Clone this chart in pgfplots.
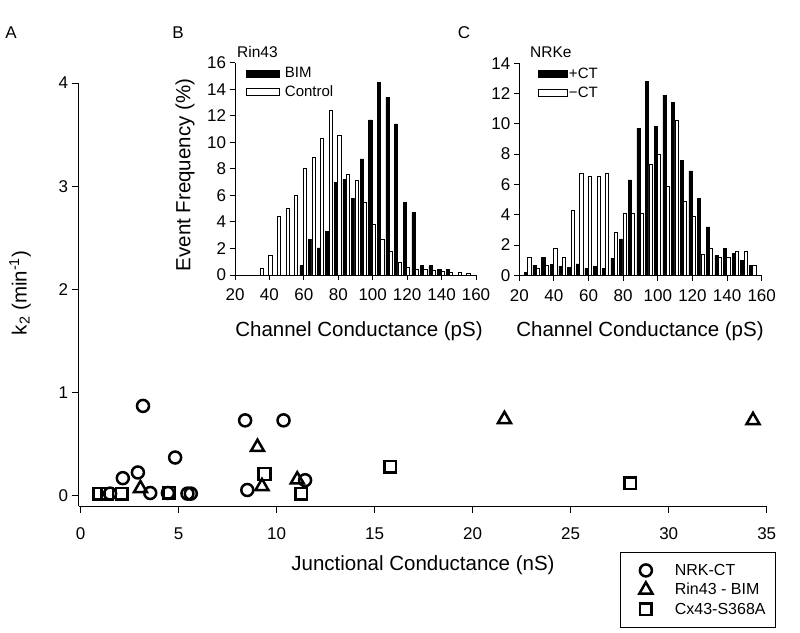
\documentclass[border=0pt]{standalone}
\usepackage{pgfplots}
\pgfplotsset{compat=1.18}
\usepackage{fontspec}
\setmainfont{Liberation Sans}
\newcommand{\fs}[1]{\fontsize{#1bp}{#1bp}\selectfont}
\pgfplotsset{
  common/.style={scale only axis, anchor=south west,
    axis x line*=bottom, axis y line*=left,
    axis line style={line width=0.9bp},
    tick style={line width=0.9bp, black},
    tick align=outside, major tick length=5.5bp,
    /pgf/number format/assume math mode=true,
    tick label style={font=\fs{17}},
    xticklabel style={yshift=-5bp},
    clip=false},
  hist/.style={common, ymin=0, xmin=20, xmax=160, xtick={20,40,...,160},
    legend cell align=left,
    legend style={draw=none, fill=none, font=\fs{15}, anchor=north west,
      nodes={inner sep=1.5bp}, row sep=3.5bp, inner sep=0bp}},
  blk/.style={ybar, bar width=1.85, bar shift=0pt, fill=black, draw=black, line width=0.5bp, forget plot},
  wht/.style={ybar, bar width=1.85, bar shift=0pt, fill=white, draw=black, line width=0.8bp, forget plot},
}
\begin{document}
\begin{tikzpicture}[x=1bp,y=1bp]
\path[use as bounding box] (0,0) rectangle (800,633);
% ---------------- Panel A ----------------
\begin{axis}[common, at={(78.7bp,127bp)}, width=688bp, height=423bp,
  xmin=-0.1, xmax=35, ymin=-0.1, ymax=4,
  xtick={0,5,...,35}, ytick={0,1,2,3,4},
  major tick length=7bp, xticklabel style={yshift=-6bp},
  legend cell align=left,
  legend style={at={(1.0135,-0.108)}, anchor=north east, draw=black, line width=0.8bp,
    font=\fs{16}, nodes={inner sep=2bp}, row sep=2.5bp, inner xsep=8bp, inner ysep=10bp},
  legend image code/.code={\draw[#1, only marks] plot coordinates {(17bp,0bp)};
    \path[draw=none, fill=none] (0bp,0bp) rectangle (44bp,0.1bp);},
  ]
\addplot[only marks, mark=o, mark size=6bp, line width=2.5bp, black] coordinates {
(3.18,0.87) (8.39,0.73) (10.35,0.73) (4.82,0.37) (2.92,0.225) (2.15,0.17)
(3.55,0.026) (4.45,0.026) (5.45,0.02) (5.62,0.02) (8.5,0.055) (11.45,0.15) (1.5,0.02)};
\addlegendentry{NRK-CT}
\addplot[only marks, mark=triangle, mark size=7.5bp, line width=2.5bp, black] coordinates {
(3.05,0.07) (9.02,0.47) (9.25,0.09) (11.05,0.155) (21.62,0.74) (34.3,0.73)};
\addlegendentry{Rin43 - BIM}
\addplot[only marks, mark=square, mark size=5.8bp, line width=2.5bp, black] coordinates {
(0.95,0.02) (1.35,0.02) (2.1,0.02) (4.52,0.03) (9.38,0.21) (11.25,0.02) (15.79,0.28) (28.04,0.12)};
\addlegendentry{Cx43-S368A}
\end{axis}
% ---------------- Panel B ----------------
\begin{axis}[hist, at={(235bp,358bp)}, width=241bp, height=212.2bp,
  ymax=16, ytick={0,2,...,16},
  legend style={at={(0.045,0.985)}}]
\addplot[blk] coordinates {
(58.6,0.7) (63.6,2.7) (68.6,2.05) (73.6,3.3) (78.6,7.0) (83.6,7.2) (88.6,5.8)
(93.6,8.75) (98.6,11.7) (103.6,14.5) (108.6,13.4) (113.6,11.4) (118.6,5.5)
(123.6,4.7) (128.6,0.7) (133.6,0.7) (138.6,0.4) (143.6,0.4)};
\addplot[wht] coordinates {
(35.6,0.5) (40.6,1.5) (45.6,4.4) (50.6,5.0) (55.6,6.0) (60.6,8.0) (65.6,8.9)
(70.6,10.3) (75.6,12.4) (80.6,10.55) (85.6,7.6) (90.6,7.1) (95.6,5.5) (100.6,3.8)
(105.6,2.7) (110.6,1.75) (115.6,0.95) (120.6,0.6) (125.6,0.43) (130.6,0.43)
(135.6,0.33) (140.6,0.25) (145.6,0.18) (150.6,0.18) (155.6,0.13)};
\addlegendimage{legend image code/.code={\draw[fill=black,draw=black] (0bp,-3.5bp) rectangle (33bp,3.5bp); \path[draw=none] (33bp,0bp) -- (37bp,0bp);}}
\addlegendentry{BIM}
\addlegendimage{legend image code/.code={\draw[fill=white,draw=black,line width=0.8bp] (0bp,-3.5bp) rectangle (33bp,3.5bp); \path[draw=none] (33bp,0bp) -- (37bp,0bp);}}
\addlegendentry{Control}
\end{axis}
% ---------------- Panel C ----------------
\begin{axis}[hist, at={(519.3bp,357.7bp)}, width=242.4bp, height=212bp,
  ymax=14, ytick={0,2,...,14},
  legend style={at={(0.075,0.985)}}]
\addplot[blk] coordinates {
(23.8,0.2) (28.8,0.65) (33.8,1.2) (38.8,0.7) (43.8,0.6) (48.8,0.5) (53.8,0.75)
(58.8,0.45) (63.8,0.6) (68.8,0.45) (73.8,1.1) (78.8,2.4) (83.8,6.3) (88.8,9.7)
(93.8,12.8) (98.8,9.85) (103.8,11.9) (108.8,11.4) (113.8,7.6) (118.8,6.9)
(123.8,5.1) (128.8,3.2) (133.8,1.3) (138.8,1.8) (143.8,1.45) (148.8,1.0) (153.8,0.65)};
\addplot[wht] coordinates {
(25.8,1.2) (30.8,0.45) (35.8,0.65) (40.8,1.8) (45.8,1.2) (50.8,4.3) (55.8,6.7)
(60.8,6.5) (65.8,6.5) (70.8,6.7) (75.8,2.8) (80.8,4.1) (85.8,4.1) (90.8,4.1)
(95.8,7.3) (100.8,8.0) (105.8,5.9) (110.8,10.2) (115.8,4.9) (120.8,3.9)
(125.8,1.4) (130.8,1.8) (135.8,1.2) (140.8,1.2) (145.8,1.6) (150.8,1.6) (155.8,0.65)};
\addlegendimage{legend image code/.code={\draw[fill=black,draw=black] (0bp,-3.5bp) rectangle (29bp,3.5bp);}}
\addlegendentry{+CT}
\addlegendimage{legend image code/.code={\draw[fill=white,draw=black,line width=0.8bp] (0bp,-3.5bp) rectangle (29bp,3.5bp);}}
\addlegendentry{−CT}
\end{axis}
% ---------------- Labels ----------------
\node[font=\fs{20.5}] at (423,68) {Junctional Conductance (nS)};
\node[font=\fs{20.5}, rotate=90] at (20,340) {k\textsubscript{2} (min\textsuperscript{-1})};
\node[font=\fs{20.5}, rotate=90] at (185,458) {Event Frequency (\%)};
\node[font=\fs{20.5}] at (359,302) {Channel Conductance (pS)};
\node[font=\fs{20.5}] at (640,302) {Channel Conductance (pS)};
\node[font=\fs{17}] at (11,600) {A};
\node[font=\fs{17}] at (178,600) {B};
\node[font=\fs{17}] at (464,600) {C};
\node[font=\fs{15.5}, anchor=west, inner sep=0pt] at (237,581) {Rin43};
\node[font=\fs{15.5}, anchor=west, inner sep=0pt] at (530,581) {NRKe};
\end{tikzpicture}
\end{document}
